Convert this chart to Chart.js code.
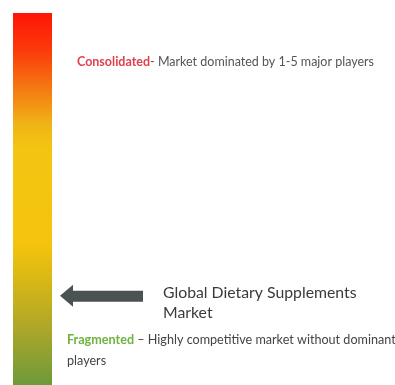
<!DOCTYPE html>
<html><head><meta charset="utf-8">
<script src="https://cdn.jsdelivr.net/npm/chart.js@4"></script>
<style>html,body{margin:0;padding:0;background:#fff}#w{width:395px;height:385px;position:relative}</style>
</head><body><div id="w"><canvas id="c"></canvas></div>
<script>
const categories = ['Market concentration'];
const scaleValues = [100];
const marketPosition = [24];
const titleLines = ['Global Dietary Supplements', 'Market'];
const topLabel = ['Consolidated', '- Market dominated by 1-5 major players'];
const bottomLabel = ['Fragmented', ' \u2013 Highly competitive market without dominant', 'players'];

function grad(ctx) {
  const ca = ctx.chart.chartArea;
  if (!ca) return '#f5c510';
  const g = ctx.chart.ctx.createLinearGradient(0, ca.top, 0, ca.bottom);
  g.addColorStop(0, '#ff1506');
  g.addColorStop(0.1, '#fb3a0a');
  g.addColorStop(0.2, '#f47812');
  g.addColorStop(0.3, '#f0b416');
  g.addColorStop(0.36, '#f3c412');
  g.addColorStop(0.62, '#f4c40e');
  g.addColorStop(0.72, '#d8b716');
  g.addColorStop(0.84, '#b0a828');
  g.addColorStop(1, '#6c9a3a');
  return g;
}

const overlay = {
  id: 'overlay',
  afterDatasetsDraw(chart) {
    const c = chart.ctx, y = chart.scales.y;
    c.save();
    const ay = y.getPixelForValue(marketPosition[0]);
    c.fillStyle = '#4b5252';
    c.beginPath();
    c.moveTo(60, ay);
    c.lineTo(73, ay - 11);
    c.lineTo(73, ay - 5);
    c.lineTo(143, ay - 5);
    c.lineTo(143, ay + 6);
    c.lineTo(73, ay + 6);
    c.lineTo(73, ay + 11);
    c.closePath();
    c.fill();
    c.textBaseline = 'middle';
    c.fillStyle = '#3a3a3a';
    c.font = '15.8px Lato';
    c.fillText(titleLines[0], 163, ay - 3);
    c.fillText(titleLines[1], 163, ay + 17);
    let x = 77, ty = 62;
    c.font = 'bold 12.5px Lato';
    c.fillStyle = '#e0404e';
    c.fillText(topLabel[0], x, ty);
    x += c.measureText(topLabel[0]).width;
    c.font = '12.5px Lato';
    c.fillStyle = '#555';
    c.fillText(topLabel[1], x, ty);
    x = 67; ty = 340;
    c.font = 'bold 12.6px Lato';
    c.fillStyle = '#6db33f';
    c.fillText(bottomLabel[0], x, ty);
    x += c.measureText(bottomLabel[0]).width;
    c.font = '12.6px Lato';
    c.fillStyle = '#444';
    c.fillText(bottomLabel[1], x, ty);
    c.fillText(bottomLabel[2], 67, 361);
    c.restore();
  }
};

new Chart(document.getElementById('c'), {
  type: 'bar',
  data: { labels: categories, datasets: [{ data: scaleValues, backgroundColor: grad, borderWidth: 0, barPercentage: 1, categoryPercentage: 1 }] },
  options: {
    responsive: true, maintainAspectRatio: false, animation: false,
    layout: { padding: { left: 13, top: 13, right: 343, bottom: 0 } },
    plugins: { legend: { display: false }, tooltip: { enabled: false } },
    scales: {
      x: { display: false },
      y: { display: false, min: 0, max: 100 }
    }
  },
  plugins: [overlay]
});
</script></body></html>
